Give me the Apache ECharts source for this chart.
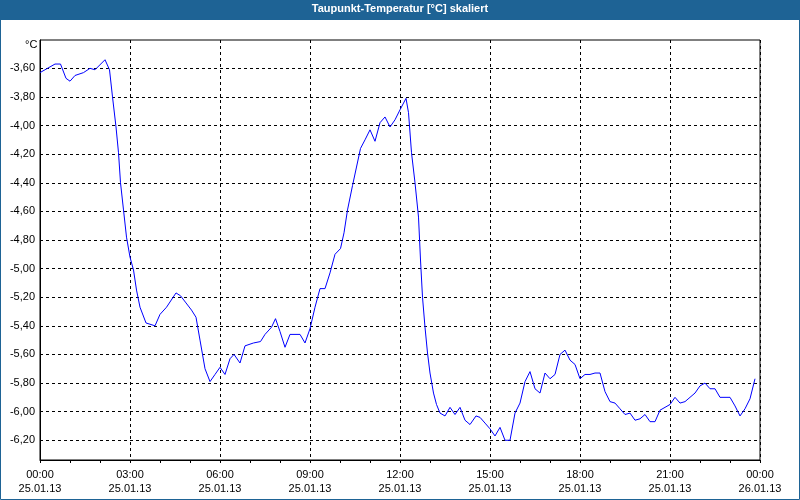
<!DOCTYPE html>
<html>
<head>
<meta charset="utf-8">
<title>Taupunkt-Temperatur</title>
<script src="https://cdn.jsdelivr.net/npm/echarts@6/dist/echarts.min.js"></script>
<style>
  html, body { margin: 0; padding: 0; background: #fff; }
  #chart { width: 800px; height: 500px; }
</style>
</head>
<body>
<div id="chart"></div>
<script>
// Zeitpunkte in Minuten ab 25.01.13 00:00
var times = [
  0, 20, 30, 41, 52, 60, 70, 87, 100, 110, 130, 139, 145, 152, 157, 161, 167, 173,
  180, 187, 193, 200, 212, 230, 240, 253, 272, 281, 292, 303, 312, 320, 330, 340,
  350, 360, 370, 380, 388, 400, 410, 427, 441, 450, 463, 471, 480, 490, 500, 520,
  530, 540, 550, 560, 570, 580, 590, 601, 608, 615, 625, 633, 641, 650, 660, 670,
  680, 690, 700, 710, 720, 732, 737, 743, 750, 757, 761, 765, 770, 775, 780, 787,
  793, 800, 810, 820, 830, 840, 850, 860, 872, 880, 890, 900, 910, 920, 930, 940,
  950, 960, 970, 980, 990, 1000, 1010, 1020, 1030, 1040, 1050, 1060, 1070, 1080,
  1090, 1100, 1110, 1120, 1130, 1140, 1150, 1160, 1170, 1180, 1190, 1200, 1210,
  1220, 1230, 1240, 1250, 1260, 1270, 1280, 1290, 1300, 1310, 1320, 1330, 1340,
  1350, 1360, 1370, 1380, 1390, 1400, 1410, 1420, 1430
];
// Taupunkt in °C
var dewpoint = [
  -3.63, -3.59, -3.57, -3.57, -3.67, -3.69, -3.65, -3.63, -3.60, -3.61, -3.54, -3.61, -3.80, -4.01, -4.19, -4.40, -4.59, -4.78,
  -4.92, -5.01, -5.15, -5.27, -5.38, -5.40, -5.32, -5.27, -5.17, -5.19, -5.24, -5.29, -5.34, -5.50, -5.70, -5.79,
  -5.74, -5.69, -5.74, -5.63, -5.60, -5.66, -5.54, -5.52, -5.51, -5.46, -5.41, -5.35, -5.44, -5.55, -5.46, -5.46,
  -5.52, -5.42, -5.27, -5.14, -5.14, -5.03, -4.90, -4.86, -4.75, -4.59, -4.42, -4.29, -4.16, -4.10, -4.03, -4.11,
  -3.98, -3.94, -4.01, -3.96, -3.89, -3.81, -3.91, -4.19, -4.40, -4.64, -4.94, -5.20, -5.41, -5.59, -5.73, -5.87,
  -5.95, -6.01, -6.03, -5.97, -6.02, -5.97, -6.06, -6.09, -6.03, -6.04, -6.08, -6.12, -6.17, -6.11, -6.20, -6.20,
  -6.01, -5.94, -5.79, -5.72, -5.84, -5.87, -5.73, -5.77, -5.74, -5.60, -5.57, -5.64, -5.67, -5.77,
  -5.74, -5.74, -5.73, -5.73, -5.86, -5.93, -5.94, -5.98, -6.02, -6.01, -6.06, -6.05, -6.02,
  -6.07, -6.07, -5.99, -5.97, -5.95, -5.90, -5.94, -5.93, -5.90, -5.87, -5.82, -5.80, -5.84,
  -5.84, -5.90, -5.90, -5.90, -5.96, -6.03, -5.98, -5.91, -5.77
];
var yTicks = [-6.2, -6.0, -5.8, -5.6, -5.4, -5.2, -5.0, -4.8, -4.6, -4.4, -4.2, -4.0, -3.8, -3.6];
var xTickLabels = [
  '00:00\n25.01.13', '03:00\n25.01.13', '06:00\n25.01.13', '09:00\n25.01.13', '12:00\n25.01.13',
  '15:00\n25.01.13', '18:00\n25.01.13', '21:00\n25.01.13', '00:00\n26.01.13'
];

var seriesData = times.map(function (t, i) { return [t, dewpoint[i]]; });

var chart = echarts.init(document.getElementById('chart'));
var font = 'Liberation Sans, Arial, sans-serif';

chart.setOption({
  backgroundColor: '#ffffff',
  animation: false,
  textStyle: { fontFamily: font },
  graphic: [
    {
      type: 'rect', z: -1, silent: true,
      shape: { x: 0.5, y: 0.5, width: 799, height: 499 },
      style: { fill: '#ffffff', stroke: '#1e6395', lineWidth: 1 }
    },
    {
      type: 'rect', z: 0, silent: true,
      shape: { x: 0, y: 0, width: 800, height: 20 },
      style: { fill: '#1e6395' }
    },
    {
      type: 'text', z: 5, silent: true,
      left: 25, top: 39,
      style: { text: '°C', fill: '#000', font: '11px ' + font }
    }
  ],
  title: {
    text: 'Taupunkt-Temperatur [°C] skaliert',
    left: 'center',
    top: 3,
    padding: 0,
    textStyle: { color: '#ffffff', fontSize: 11, fontWeight: 'bold', fontFamily: font }
  },
  grid: {
    left: 40, right: 40, top: 40, bottom: 40,
    show: true,
    backgroundColor: '#ffffff',
    borderColor: '#000000',
    borderWidth: 1
  },
  xAxis: {
    type: 'value',
    min: 0,
    max: 1440,
    interval: 180,
    axisLine: { show: true, lineStyle: { color: '#000', width: 1 } },
    axisTick: { show: true, length: 3, lineStyle: { color: '#000' } },
    minorTick: { show: true, splitNumber: 3, length: 3, lineStyle: { color: '#000' } },
    axisLabel: {
      color: '#000',
      fontSize: 11,
      lineHeight: 14,
      margin: 8,
      formatter: function (v) { return xTickLabels[Math.round(v / 180)]; }
    },
    splitLine: { show: true, lineStyle: { color: '#000', type: [3, 3], width: 1 } }
  },
  yAxis: {
    type: 'value',
    min: -6.338,
    max: -3.402,
    axisLine: { show: true, lineStyle: { color: '#000', width: 1 } },
    axisTick: { show: false, customValues: yTicks },
    axisLabel: {
      color: '#000',
      fontSize: 11,
      margin: 5,
      customValues: yTicks,
      formatter: function (v) { return v.toFixed(2).replace('.', ','); }
    },
    splitLine: { show: true, lineStyle: { color: '#000', type: [3, 3], width: 1 } }
  },
  series: [{
    type: 'line',
    data: seriesData,
    showSymbol: false,
    symbol: 'none',
    lineStyle: { color: '#0000ff', width: 1 },
    itemStyle: { color: '#0000ff' }
  }]
});
</script>
</body>
</html>
